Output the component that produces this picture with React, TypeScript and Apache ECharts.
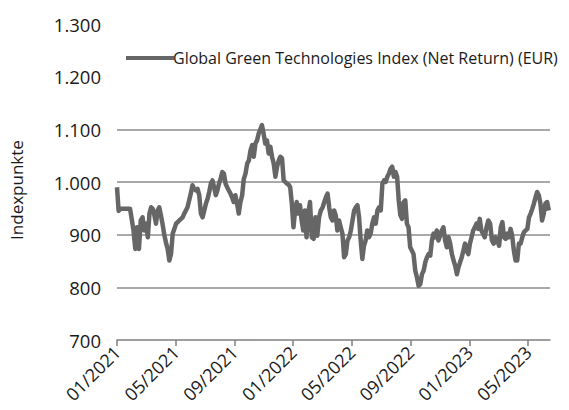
import React, { useEffect, useRef } from "react";
import * as echarts from "echarts";

const seriesName = "Global Green Technologies Index (Net Return) (EUR)";
const startDate = Date.UTC(2021, 0, 1);
const stepDays = 3.45;

// index values, sampled about twice a week from 01/2021
const values2021 = [
  990, 945, 949, 949, 949, 949, 949, 949, 949, 930,
  908, 873, 914, 873, 927, 933, 908, 921, 895, 940,
  952, 949, 937, 921, 946, 952, 937, 920, 900, 885,
  873, 851, 863, 902, 911, 921, 924, 927, 930, 933,
  940, 946, 952, 965, 978, 994, 987, 984, 987, 975,
  940, 933, 946, 959, 968, 981, 997, 1003, 990, 975,
  984, 997, 1006, 1019, 1016, 997, 990, 984, 978, 971,
  962, 975, 959, 940, 962, 975, 1006, 1016, 1035, 1041,
  1060, 1070, 1048, 1073, 1079, 1092, 1100, 1108, 1092, 1073,
  1079, 1054, 1067, 1048, 1035, 1010, 1029, 1041,
];
const values2022 = [
  1048, 1045, 1003, 1000, 997, 995, 990, 959, 914, 946,
  962, 940, 956, 927, 908, 946, 895, 940, 962, 895,
  892, 933, 898, 933, 946, 952, 962, 971, 978, 952,
  933, 927, 946, 937, 908, 927, 914, 902, 857, 863,
  889, 895, 908, 927, 946, 952, 956, 933, 889, 854,
  879, 889, 908, 895, 902, 921, 933, 921, 946, 952,
  946, 997, 1003, 1000, 1010, 1016, 1025, 1029, 1010, 1019,
  1010, 965, 937, 930, 962, 965, 921, 914, 876, 870,
  863, 832, 819, 803, 806, 825, 832, 848, 857, 863,
  860, 889, 902, 895, 908, 889, 898, 908, 914, 889,
];
const values2023 = [
  876, 895, 883, 863, 851, 841, 825, 838, 848, 857,
  870, 883, 870, 863, 883, 895, 908, 914, 921, 911,
  930, 908, 902, 895, 914, 927, 921, 889, 883, 895,
  889, 879, 914, 924, 895, 892, 902, 895, 911, 898,
  870, 851, 851, 883, 883, 895, 905, 908, 911, 933,
  940, 949, 959, 971, 981, 975, 959, 927, 940, 959,
  962, 946,
];
const values = [...values2021, ...values2022, ...values2023];

const xTickMonths = [0, 4, 8, 12, 16, 20, 24, 28];
const xMaxMonth = 29.5;
const yMin = 700;
const yMax = 1300;
const yStep = 100;
const gridValues = [800, 900, 1000, 1100];

const FONT = "'Open Sans', 'Noto Sans', sans-serif";
const TEXT = "#1a1a1a";

function monthsSinceStart(t: number): number {
  const d = new Date(t);
  const y = d.getUTCFullYear();
  const m = d.getUTCMonth();
  const monthStart = Date.UTC(y, m, 1);
  const nextStart = Date.UTC(y, m + 1, 1);
  return (y - 2021) * 12 + m + (t - monthStart) / (nextStart - monthStart);
}

function fmtMonth(v: number): string {
  const mi = Math.round(v);
  const month = (mi % 12) + 1;
  const year = 2021 + Math.floor(mi / 12);
  return `${String(month).padStart(2, "0")}/${year}`;
}

function fmtY(v: number): string {
  if (v >= 1000) {
    return `${Math.floor(v / 1000)}.${String(v % 1000).padStart(3, "0")}`;
  }
  return String(v);
}

export default function App() {
  const ref = useRef<HTMLDivElement>(null);
  useEffect(() => {
    if (!ref.current) return;
    const chart = echarts.init(ref.current, undefined, { renderer: "svg" });
    const data = values.map((v, i) => [
      monthsSinceStart(startDate + i * stepDays * 86400000),
      v,
    ]);
    const yTicks: number[] = [];
    for (let v = yMin; v <= yMax; v += yStep) yTicks.push(v);
    const splitColors = yTicks.map((v) =>
      gridValues.includes(v) ? "#8c8c8c" : "rgba(0,0,0,0)"
    );
    chart.setOption({
      animation: false,
      backgroundColor: "#ffffff",
      textStyle: { fontFamily: FONT },
      grid: { left: 116, right: 19, top: 24, bottom: 70, containLabel: false },
      legend: {
        show: true,
        left: 121,
        top: 45,
        icon: "rect",
        itemWidth: 48,
        itemHeight: 4,
        itemGap: 0,
        textStyle: { fontFamily: FONT, fontSize: 16, color: TEXT, padding: [0, 0, 0, -6] },
        data: [{ name: seriesName, itemStyle: { color: "#666666" } }],
      },
      xAxis: {
        type: "value",
        min: 0,
        max: xMaxMonth,
        interval: 4,
        axisLine: { show: true, lineStyle: { color: "#7f7f7f", width: 1.5 } },
        axisTick: {
          show: true,
          inside: false,
          length: 6,
          customValues: xTickMonths,
          lineStyle: { color: "#7f7f7f", width: 1.5 },
        },
        axisLabel: {
          customValues: xTickMonths,
          rotate: 45,
          margin: 9,
          fontFamily: FONT,
          fontSize: 18,
          color: TEXT,
          formatter: (v: number) => fmtMonth(v),
        },
        splitLine: { show: false },
      },
      yAxis: {
        type: "value",
        min: yMin,
        max: yMax,
        interval: yStep,
        name: "Indexpunkte",
        nameLocation: "middle",
        nameRotate: 90,
        nameGap: 92,
        nameTextStyle: { fontFamily: FONT, fontSize: 17, color: TEXT, padding: [0, 16, 0, 0] },
        axisLine: { show: false },
        axisTick: { show: false },
        axisLabel: {
          margin: 16,
          fontFamily: FONT,
          fontSize: 18.5,
          color: TEXT,
          formatter: (v: number) => fmtY(v),
        },
        splitLine: {
          show: true,
          lineStyle: { color: splitColors, width: 1.5 },
        },
      },
      series: [
        {
          name: seriesName,
          type: "line",
          data,
          showSymbol: false,
          symbol: "none",
          lineStyle: { color: "#666666", width: 4.5, join: "round" },
          itemStyle: { color: "#666666" },
        },
      ],
    });
    return () => chart.dispose();
  }, []);
  return <div ref={ref} style={{ width: 569, height: 410, margin: -8 }} />;
}
